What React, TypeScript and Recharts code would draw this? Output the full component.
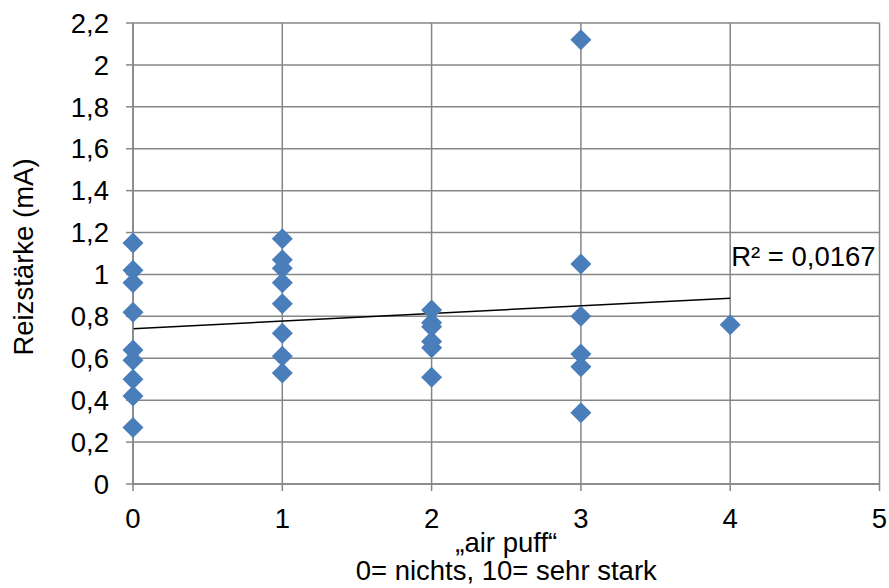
import React from 'react';
import { ScatterChart, Scatter, XAxis, YAxis, CartesianGrid, ReferenceLine, ReferenceDot } from 'recharts';

const airPuffLevels = [0, 1, 2, 3, 4];
const reizAir0 = [1.15, 1.02, 0.96, 0.82, 0.64, 0.59, 0.5, 0.42, 0.27];
const reizAir1 = [1.17, 1.07, 1.03, 0.96, 0.86, 0.72, 0.61, 0.53];
const reizAir2 = [0.83, 0.77, 0.75, 0.68, 0.65, 0.51];
const reizAir3 = [2.12, 1.05, 0.8, 0.62, 0.56, 0.34];
const reizAir4 = [0.76];
const xTicks = [0, 1, 2, 3, 4, 5];
const yTicks = [0, 0.2, 0.4, 0.6, 0.8, 1, 1.2, 1.4, 1.6, 1.8, 2, 2.2];
const trendX = [0, 4];
const trendY = [0.741, 0.887];
const rSquaredText = 'R² = 0,0167';
const rSquaredY = 1.085;
const xTitle1 = '„air puff“';
const xTitle2 = '0= nichts, 10= sehr stark';
const yTitle = 'Reizstärke (mA)';

const groups = [reizAir0, reizAir1, reizAir2, reizAir3, reizAir4];
const points = groups.flatMap((vals, i) => vals.map((v) => ({ x: airPuffLevels[i], y: v })));

const GRAY = '#868686';
const BLUE = '#4A7EBB';
const FONT = '"Liberation Sans", Arial, sans-serif';
const FS = 27.5;

const fmt = (v: number) => String(Math.round(v * 10) / 10).replace('.', ',');

const Diamond = (props: any) => {
  const { cx, cy } = props;
  if (cx == null || cy == null) return null;
  const h = 10.5;
  return (
    <polygon
      points={`${cx},${cy - h} ${cx + h},${cy} ${cx},${cy + h} ${cx - h},${cy}`}
      fill={BLUE}
    />
  );
};

const XTitle = (props: any) => {
  const vb = props.viewBox || {};
  const cx = vb.x + vb.width / 2;
  return (
    <g>
      <text x={cx} y={vb.y + 68} textAnchor="middle" fontFamily={FONT} fontSize={FS} fill="#000">
        {xTitle1}
      </text>
      <text x={cx} y={vb.y + 96} textAnchor="middle" fontFamily={FONT} fontSize={FS} fill="#000">
        {xTitle2}
      </text>
    </g>
  );
};

const YTitle = (props: any) => {
  const vb = props.viewBox || {};
  const x = 33;
  const y = vb.y + vb.height / 2 + 3.5;
  return (
    <text
      x={x}
      y={y}
      transform={`rotate(-90, ${x}, ${y})`}
      textAnchor="middle"
      fontFamily={FONT}
      fontSize={FS}
      fill="#000"
    >
      {yTitle}
    </text>
  );
};

export default function App() {
  return (
    <div style={{ position: 'absolute', left: 0, top: 0, width: 889, height: 588, background: '#fff' }}>
      <ScatterChart width={889} height={588} margin={{ top: 23, right: 9.5, bottom: 0, left: 0 }}>
        <CartesianGrid stroke={GRAY} strokeWidth={1.5} />
        <XAxis
          type="number"
          dataKey="x"
          domain={[0, 5]}
          ticks={xTicks}
          interval={0}
          height={104}
          tickSize={7}
          tickMargin={17}
          axisLine={{ stroke: GRAY, strokeWidth: 1.5 }}
          tickLine={{ stroke: GRAY, strokeWidth: 1.5 }}
          tick={{ fill: '#000', fontSize: FS, fontFamily: FONT }}
          label={<XTitle />}
        />
        <YAxis
          type="number"
          dataKey="y"
          domain={[0, 2.2]}
          ticks={yTicks}
          interval={0}
          width={133}
          tickSize={7}
          tickMargin={17}
          tickFormatter={fmt}
          axisLine={{ stroke: GRAY, strokeWidth: 1.5 }}
          tickLine={{ stroke: GRAY, strokeWidth: 1.5 }}
          tick={{ fill: '#000', fontSize: FS, fontFamily: FONT }}
          label={<YTitle />}
        />
        <Scatter data={points} shape={<Diamond />} isAnimationActive={false} />
        <ReferenceLine
          segment={[
            { x: trendX[0], y: trendY[0] },
            { x: trendX[1], y: trendY[1] },
          ]}
          stroke="#000"
          strokeWidth={1.5}
        />
        <ReferenceDot
          x={trendX[1]}
          y={rSquaredY}
          r={1}
          fill="none"
          stroke="none"
          label={{ value: rSquaredText, position: 'right', offset: 0, fill: '#000', fontSize: FS, fontFamily: FONT }}
        />
      </ScatterChart>
    </div>
  );
}
